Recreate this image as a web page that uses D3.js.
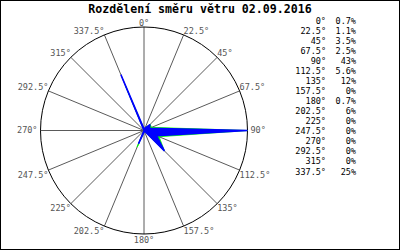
<!DOCTYPE html>
<html>
<head>
<meta charset="utf-8">
<script src="https://cdn.jsdelivr.net/npm/d3@7"></script>
<style>
body { margin: 0; background: #fff; }
text { font-family: "DejaVu Sans Mono", "Liberation Mono", monospace; }
</style>
</head>
<body>
<svg id="rose" width="400" height="250"></svg>
<script>
// wind direction sectors and share of time (%)
var directions = [0, 22.5, 45, 67.5, 90, 112.5, 135, 157.5, 180, 202.5, 225, 247.5, 270, 292.5, 315, 337.5];
var dirLabels = ["0°", "22.5°", "45°", "67.5°", "90°", "112.5°", "135°", "157.5°", "180°", "202.5°", "225°", "247.5°", "270°", "292.5°", "315°", "337.5°"];
var shares = [0.7, 1.1, 3.5, 2.5, 43, 5.6, 12, 0, 0.7, 6, 0, 0, 0, 0, 0, 25];
var shareLabels = ["0.7%", "1.1%", "3.5%", "2.5%", "43%", "5.6%", "12%", "0%", "0.7%", "6%", "0%", "0%", "0%", "0%", "0%", "25%"];
// second (green) trace, slightly wider than the blue one
var greenShares = [0.7, 1.2, 3.6, 3.4, 43, 6.8, 12, 0, 0.7, 7.5, 0, 0, 0, 0, 0, 20];
var title = "Rozdělení směru větru 02.09.2016";

var svg = d3.select("#rose");

svg.append("rect")
    .attr("x", 0.5).attr("y", 0.5)
    .attr("width", 399).attr("height", 249)
    .attr("fill", "#fff")
    .attr("stroke", "#000");

svg.append("text")
    .attr("x", 200)
    .attr("y", 13)
    .attr("text-anchor", "middle")
    .attr("font-size", "11.6px")
    .attr("font-weight", "bold")
    .attr("fill", "#000")
    .text(title);

var cx = 144, cy = 130.5, R = 103.5;

var r = d3.scaleLinear()
    .domain([0, d3.max(shares)])
    .range([0, R]);

var rad = d => d * Math.PI / 180;

var plot = svg.append("g")
    .attr("transform", "translate(" + cx + "," + cy + ")");

// spokes
plot.append("g")
    .selectAll("line")
    .data(directions)
    .join("line")
    .attr("x1", 0).attr("y1", 0)
    .attr("x2", d => R * Math.sin(rad(d)))
    .attr("y2", d => -R * Math.cos(rad(d)))
    .attr("stroke", "#5a5a5a")
    .attr("stroke-width", 1);

plot.append("circle")
    .attr("r", R)
    .attr("fill", "none")
    .attr("stroke", "#000")
    .attr("stroke-width", 1);

var line = d3.lineRadial()
    .angle((d, i) => rad(directions[i]))
    .radius(d => r(d))
    .curve(d3.curveLinearClosed);

plot.append("path")
    .attr("d", line(greenShares))
    .attr("fill", "#00ff00")
    .attr("stroke", "#00ff00")
    .attr("stroke-width", 0.8);

plot.append("path")
    .attr("d", line(shares))
    .attr("fill", "#0000ff")
    .attr("stroke", "#0000ff")
    .attr("stroke-width", 1.5)
    .attr("stroke-linejoin", "bevel");

// direction labels round the circle
plot.append("g")
    .selectAll("text")
    .data(directions)
    .join("text")
    .attr("font-size", "8.5px")
    .attr("fill", "#555")
    .attr("x", d => {
        var s = Math.sin(rad(d));
        var x = R * s;
        if (Math.abs(s) > 0.99) x += s > 0 ? 3 : -3;
        return x;
    })
    .attr("y", d => {
        var c = Math.cos(rad(d));
        var y = -R * c;
        if (c > 0.99) y -= 1;
        else if (c < -0.99) y += 3;
        else if (c < -0.01) y += 1;
        else if (c > 0.01) y -= 1;
        return y;
    })
    .attr("text-anchor", d => {
        var s = Math.sin(rad(d));
        return s > 0.01 ? "start" : s < -0.01 ? "end" : "middle";
    })
    .attr("dominant-baseline", d => {
        var c = Math.cos(rad(d));
        return c > 0.01 ? "auto" : c < -0.01 ? "hanging" : "middle";
    })
    .text((d, i) => dirLabels[i]);

// legend table
var rowY = d3.scalePoint()
    .domain(dirLabels)
    .range([21.5, 172]);

var legend = svg.append("g")
    .attr("font-size", "8.5px")
    .attr("fill", "#000");

legend.selectAll("text.dir")
    .data(dirLabels)
    .join("text")
    .attr("class", "dir")
    .attr("x", 326)
    .attr("y", d => rowY(d))
    .attr("text-anchor", "end")
    .attr("dominant-baseline", "middle")
    .text(d => d);

legend.selectAll("text.val")
    .data(shareLabels)
    .join("text")
    .attr("class", "val")
    .attr("x", 356)
    .attr("y", (d, i) => rowY(dirLabels[i]))
    .attr("text-anchor", "end")
    .attr("dominant-baseline", "middle")
    .text(d => d);
</script>
</body>
</html>
